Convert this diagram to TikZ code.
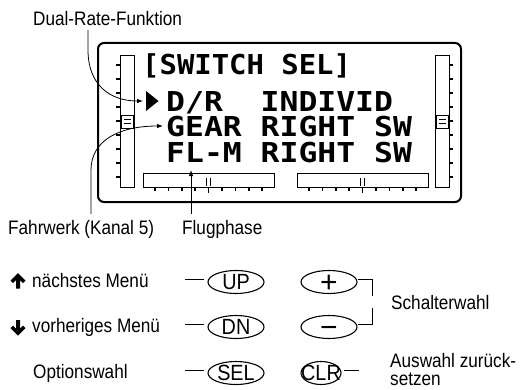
\documentclass[tikz,border=0pt]{standalone}
\usepackage{fontspec}
\usepackage{graphicx}
\setmainfont{Liberation Sans}
\newfontfamily\lcdfont{DejaVu Sans Mono}
\usetikzlibrary{shapes.geometric,arrows.meta,calc}
\newcommand\lb[1]{\scalebox{0.88}[1]{#1}}
\newcommand\bb[1]{\scalebox{0.9}[1]{#1}}
\newcommand\lcdrow[1]{\scalebox{1.146}[1]{#1}}
\begin{document}
\begin{tikzpicture}[x=1pt,y=-1pt,
  lbl/.style={anchor=base west,inner sep=0pt,font=\fontsize{19.5}{17.5}\selectfont},
  lcd/.style={anchor=base west,inner sep=0pt,font=\fontsize{27.4}{28}\selectfont\lcdfont\bfseries},
  conn/.style={line width=0.8pt},
  tip/.style={-{Latex[length=6pt,width=4.5pt]}},
  btn/.style={draw,ellipse,line width=1.1pt,minimum width=56pt,minimum height=23pt,inner sep=0pt},
  btxt/.style={inner sep=0pt,font=\fontsize{22}{22}\selectfont},
  sym/.style={inner sep=0pt,anchor=base,font=\fontsize{30}{30}\selectfont},
  bar/.style={draw,line width=0.9pt,fill=white},
  tick/.style={line width=1.6pt},
]
\useasboundingbox (0,0) rectangle (529,390);

% display frame
\draw[line width=2pt,rounded corners=6pt] (98,43) rectangle (461,202);

% vertical bars
\foreach \bx/\tx in {120/116,435/449}{
  \draw[bar] (\bx,55) rectangle ({\bx+14},187);
  \foreach \k in {0,...,8}
    \draw[tick] (\tx,{65+14*\k}) -- ({\tx+4},{65+14*\k});
  \draw[line width=0.8pt,fill=white] ({\bx+1},115) rectangle ({\bx+13},128);
  \draw[line width=0.8pt] ({\bx+3.5},119.8) -- ({\bx+10.5},119.8);
  \draw[line width=0.8pt] ({\bx+3.5},123.4) -- ({\bx+10.5},123.4);
}

% horizontal bars
\foreach \bx in {143,297}{
  \draw[bar] (\bx,173) rectangle ({\bx+131},187);
  \foreach \k in {0,...,8}
    \draw[tick] ({\bx+12+13.4*\k},187) -- ({\bx+12+13.4*\k},191);
  \draw[tick] ({\bx+65.6},187) -- ({\bx+65.6},192.5);
  \draw[line width=1.1pt] ({\bx+63.6},177.5) -- ({\bx+63.6},186);
  \draw[line width=1.1pt] ({\bx+67.6},177.5) -- ({\bx+67.6},186);
}

% LCD text
\node[lcd] (title) at (142,75) {\scalebox{1.055}[1]{[SWITCH SEL]}};
\fill (146,91) -- (158.5,101) -- (146,111) -- cycle;
\node[lcd] (row1) at (166,112) {\lcdrow{D/R~~INDIVID}};
\node[lcd] (row2) at (166,137) {\lcdrow{GEAR RIGHT SW}};
\node[lcd] (row3) at (166,162) {\lcdrow{FL-M RIGHT SW}};

% labels
\node[lbl] (dual) at (33,25.5) {\lb{Dual-Rate-Funktion}};
\node[lbl] (fahr) at (8,234) {\lb{Fahrwerk (Kanal 5)}};
\node[lbl] (flug) at (182,234) {\lb{Flugphase}};
\node[lbl] (next) at (32,287) {\lb{nächstes Menü}};
\node[lbl] (prev) at (32,332) {\lb{vorheriges Menü}};
\node[lbl] (opt) at (33,378) {\lb{Optionswahl}};
\node[lbl] (schalt) at (391,309) {\lb{Schalterwahl}};
\node[inner sep=0pt,anchor=north west,align=left,font=\fontsize{19.5}{17.5}\selectfont] (ausw) at (390,353.5) {\lb{Auswahl zurück-}\\\lb{setzen}};

% bold up / down arrows
\fill (18,273) -- (25.5,280.5) -- (23,283) -- (20,280) -- (20,288.5) -- (16,288.5) -- (16,280) -- (13,283) -- (10.5,280.5) -- cycle;
\fill (18,335.5) -- (25.5,328) -- (23,325.5) -- (20,328.5) -- (20,320) -- (16,320) -- (16,328.5) -- (13,325.5) -- (10.5,328) -- cycle;

% connectors to display
\coordinate (d0) at (88,30);
\coordinate (dtip) at (143,101);
\draw[conn,tip] (d0) -- (88,50) .. controls (88,85) and (110,101) .. (dtip);
\coordinate (f0) at (91,214);
\coordinate (ftip) at (163,126);
\draw[conn,tip] (f0) -- (91,170) .. controls (91,140) and (120,126) .. (ftip);
\coordinate (g0) at (191,214);
\coordinate (gtip) at (191,170);
\draw[conn,tip] (g0) -- (gtip);

% buttons
\node[btn] (UP) at (236,282) {};
\node[btxt] (UPt) at (UP) {\bb{UP}};
\node[btn] (DN) at (236,327) {};
\node[btxt] (DNt) at (DN) {\bb{DN}};
\node[btn] (SEL) at (236,373) {};
\node[btxt] (SELt) at (SEL) {\bb{SEL}};
\node[btn] (plus) at (329,282) {};
\node[sym] (plust) at ([yshift=-10.6pt]plus.center) {+};
\node[btn] (minus) at (329,327) {};
\node[sym] (minust) at ([yshift=-10pt]minus.center) {−};
\node[btn,minimum width=40pt] (CLR) at (321,373) {};
\node[btxt] (CLRt) at (CLR) {\bb{CLR}};

% short leader lines
\foreach \b in {UP,DN,SEL}
  \draw[conn] ([xshift=-3pt,yshift=2.5pt]\b.west) -- ++(-19,0);
\draw[conn] ([xshift=2pt,yshift=2.5pt]CLR.east) -- ++(15,0);
\draw[conn] ([yshift=3pt]plus.east) -- ++(15,0) -- ++(0,17);
\draw[conn] ([yshift=3pt]minus.east) -- ++(15,0) -- ++(0,-16);
\end{tikzpicture}
\end{document}
